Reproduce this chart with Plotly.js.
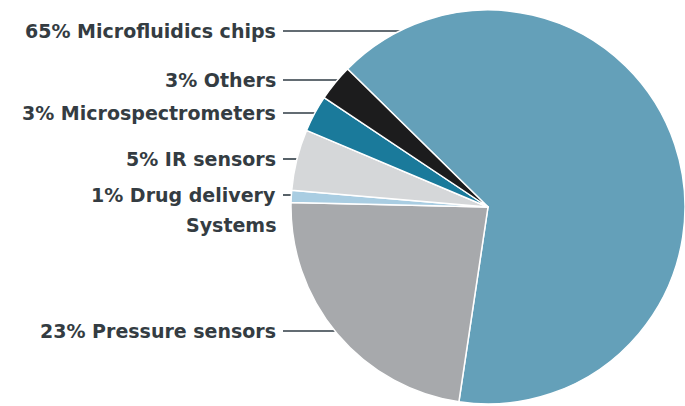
<!DOCTYPE html>
<html>
<head>
<meta charset="utf-8">
<script src="https://cdn.plot.ly/plotly-3.0.1.min.js"></script>
<style>
  html, body { margin: 0; padding: 0; background: #fff; }
  #chart { width: 685px; height: 406px; }
</style>
</head>
<body>
<div id="chart"></div>
<script>
// ---- data ----
const categories = ["Microfluidics chips", "Pressure sensors", "Drug delivery", "IR sensors", "Microspectrometers", "Others"];
const labelSuffix = ["", "", "Systems", "", "", ""];
const shares = [65, 23, 1, 5, 3, 3];
const sliceColors = ["#64a0b9", "#a7a9ac", "#a9cde2", "#d5d7d9", "#1a7a9b", "#1c1c1d"];

// ---- layout helpers (pixels in 685x406 figure) ----
const W = 685, H = 406;
const cx = 488, cy = 207, R = 197;
const labelRight = 278, lineStart = 283;
const labelRowY = [31, 331, 195, 159, 113, 80]; // label centre rows, same order as categories
const suffixGap = 30;

const px = x => x / W;
const py = y => 1 - y / H;

const font = { family: "DejaVu Sans, Arial, sans-serif", size: 19, color: "#343c42", weight: "bold" };

const annotations = [];
const shapes = [];
categories.forEach((c, i) => {
  const y = labelRowY[i];
  annotations.push({
    xref: "paper", yref: "paper", x: px(labelRight), y: py(y),
    xanchor: "right", yanchor: "middle", showarrow: false,
    text: shares[i] + "% " + c, font: font
  });
  if (labelSuffix[i]) {
    annotations.push({
      xref: "paper", yref: "paper", x: px(labelRight), y: py(y + suffixGap),
      xanchor: "right", yanchor: "middle", showarrow: false,
      text: labelSuffix[i], font: font
    });
  }
  const dy = y - cy;
  const xEdge = cx - Math.sqrt(Math.max(0, R * R - dy * dy)) + 2;
  shapes.push({
    type: "line", xref: "paper", yref: "paper", layer: "below",
    x0: px(lineStart), x1: px(xEdge), y0: py(y), y1: py(y),
    line: { color: "#2f3b44", width: 1.6 }
  });
});

const trace = {
  type: "pie",
  labels: categories,
  values: shares,
  sort: false,
  direction: "clockwise",
  rotation: -45.5,
  textinfo: "none",
  hoverinfo: "label+percent",
  marker: { colors: sliceColors, line: { color: "#ffffff", width: 1.5 } },
  domain: { x: [(cx - R) / W, Math.min(1, (cx + R) / W)], y: [(H - cy - R) / H, (H - cy + R) / H] },
  showlegend: false
};

const layout = {
  width: W, height: H,
  margin: { l: 0, r: 0, t: 0, b: 0 },
  paper_bgcolor: "#ffffff",
  plot_bgcolor: "#ffffff",
  showlegend: false,
  annotations: annotations,
  shapes: shapes
};

Plotly.newPlot("chart", [trace], layout, { displayModeBar: false, staticPlot: true });
</script>
</body>
</html>
